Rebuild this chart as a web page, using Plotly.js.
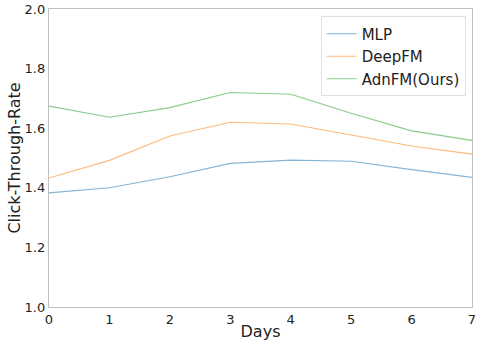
<!DOCTYPE html>
<html>
<head>
<meta charset="utf-8">
<script src="https://cdn.plot.ly/plotly-3.0.1.min.js"></script>
<style>html,body{margin:0;padding:0;background:#fff;}#chart{width:490px;height:346px;}</style>
</head>
<body>
<div id="chart"></div>
<script>
const days = [0, 1, 2, 3, 4, 5, 6, 7];
const mlp = [1.383, 1.400, 1.437, 1.482, 1.493, 1.489, 1.461, 1.435];
const deepfm = [1.433, 1.492, 1.574, 1.620, 1.614, 1.578, 1.540, 1.513];
const adnfm = [1.674, 1.637, 1.669, 1.720, 1.714, 1.650, 1.591, 1.559];
const names = ['MLP', 'DeepFM', 'AdnFM(Ours)'];
const colors = ['rgba(31,119,180,0.55)', 'rgba(255,127,14,0.55)', 'rgba(44,160,44,0.55)'];
const series = [mlp, deepfm, adnfm];

const traces = series.map((s, i) => ({
  x: days, y: s, type: 'scatter', mode: 'lines', name: names[i],
  line: {color: colors[i], width: 1.1}
}));

const font = 'DejaVu Sans, sans-serif';
const layout = {
  width: 490, height: 346,
  margin: {l: 49, r: 18, t: 9, b: 39},
  paper_bgcolor: '#fff', plot_bgcolor: '#fff',
  font: {family: font, color: '#222'},
  showlegend: true,
  legend: {
    x: 0.985, y: 0.975, xanchor: 'right', yanchor: 'top',
    bgcolor: 'rgba(255,255,255,0.8)', bordercolor: '#e0e0e0', borderwidth: 1,
    font: {family: font, size: 15, color: '#222'}
  },
  xaxis: {
    range: [0, 7], tickvals: days, ticktext: days.map(String),
    showgrid: false, zeroline: false, showline: true, mirror: true,
    linecolor: '#c0c0c0', linewidth: 1.2, ticks: '',
    tickfont: {family: font, size: 13, color: '#222'},
    title: {text: 'Days', font: {family: font, size: 16, color: '#222'}, standoff: 0}
  },
  yaxis: {
    range: [1.0, 2.0], tickvals: [1.0, 1.2, 1.4, 1.6, 1.8, 2.0],
    ticktext: ['1.0', '1.2', '1.4', '1.6', '1.8', '2.0'],
    showgrid: false, zeroline: false, showline: true, mirror: true,
    linecolor: '#c0c0c0', linewidth: 1.2, ticks: '',
    tickfont: {family: font, size: 13, color: '#222'},
    title: {text: 'Click-Through-Rate', font: {family: font, size: 16, color: '#222'}, standoff: 0}
  }
};
Plotly.newPlot('chart', traces, layout, {displayModeBar: false, staticPlot: true});
</script>
</body>
</html>
